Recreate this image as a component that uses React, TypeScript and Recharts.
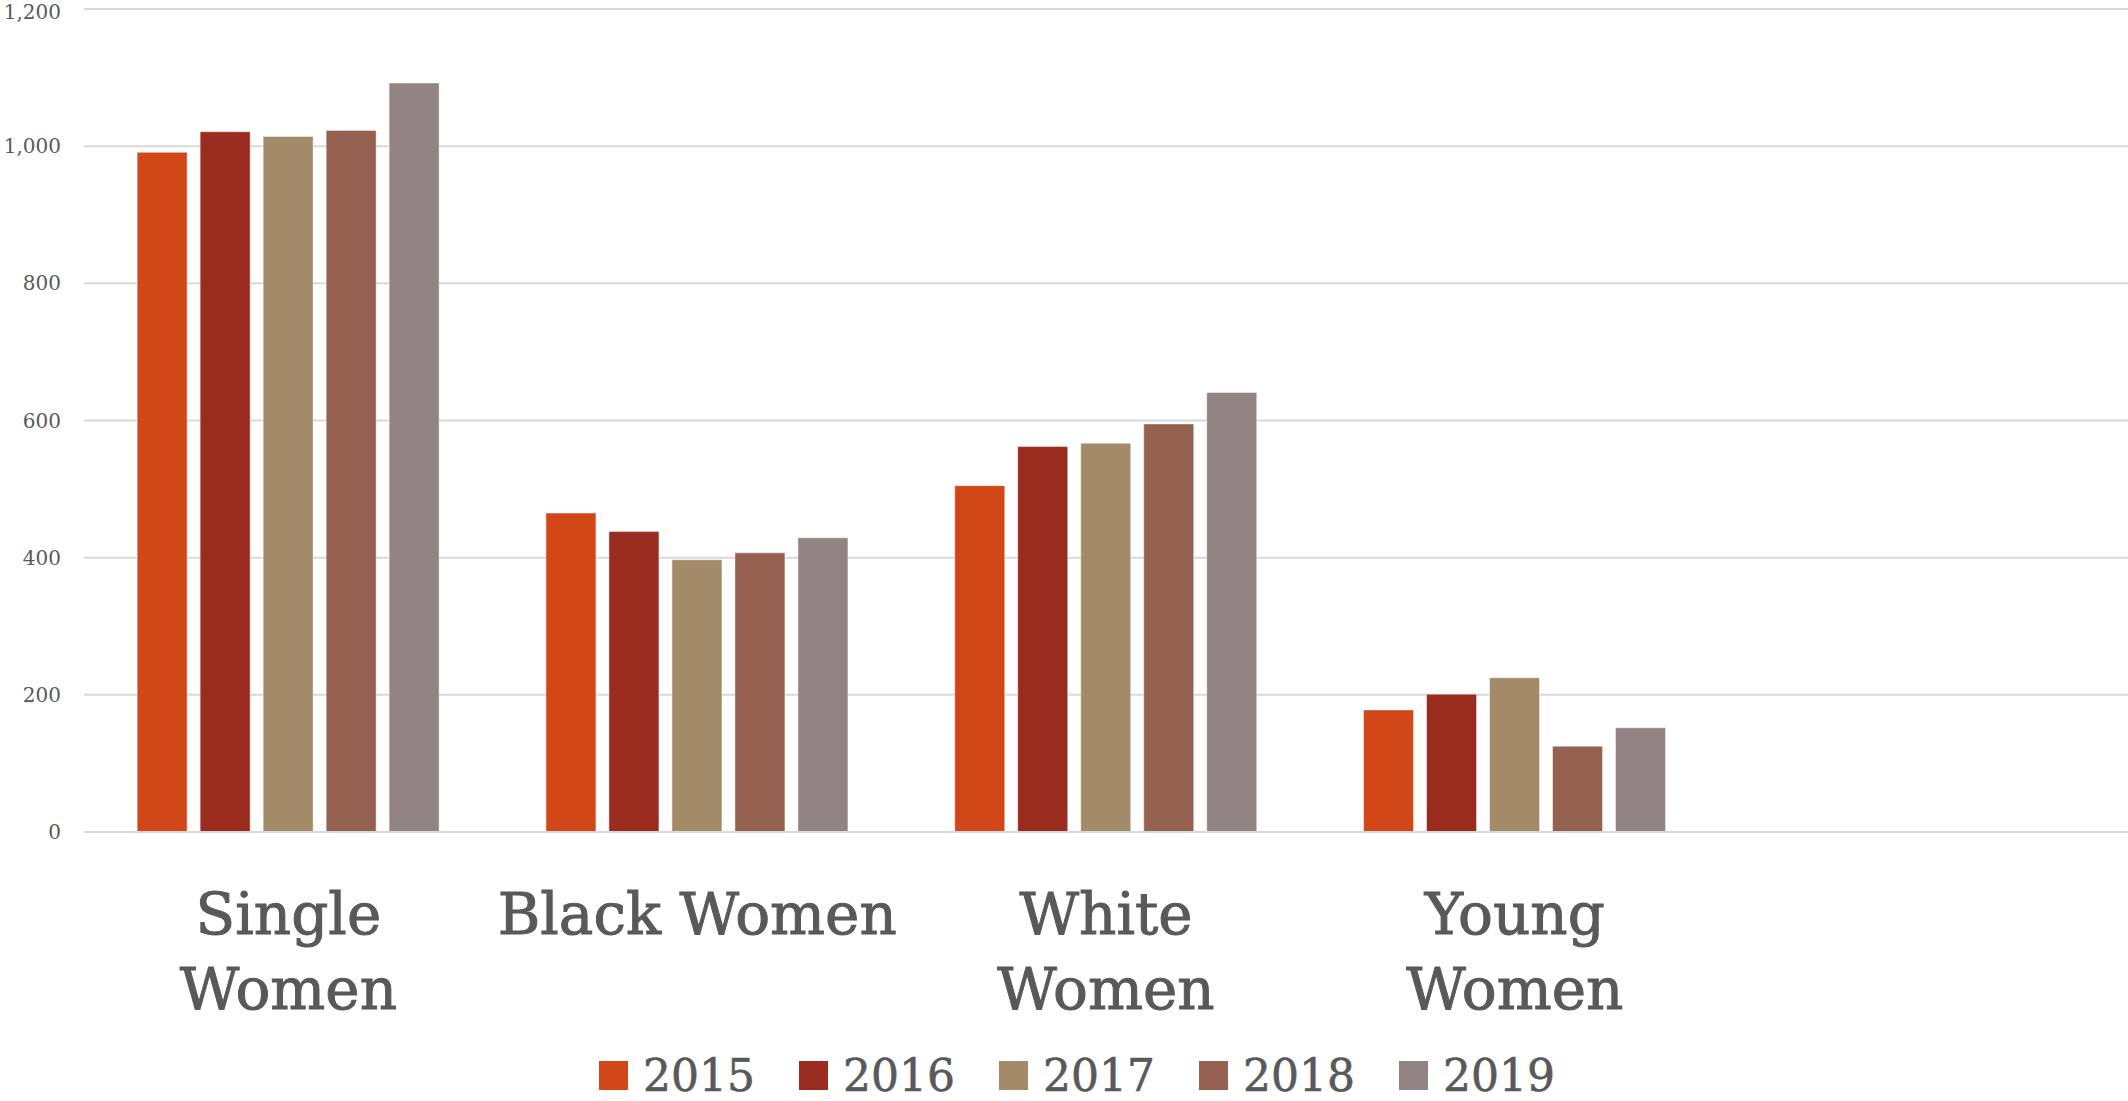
import { Bar, BarChart, CartesianGrid, Legend, XAxis, YAxis } from "recharts"

const categories = ["Single\nWomen", "Black Women", "White\nWomen", "Young\nWomen", ""]
const years = ["2015", "2016", "2017", "2018", "2019"]
const colors = ["#D24718", "#9A2B1F", "#A38B6A", "#956251", "#918483"]

const v2015 = [991, 465, 505, 178]
const v2016 = [1021, 438, 562, 201]
const v2017 = [1014, 397, 567, 225]
const v2018 = [1023, 407, 595, 125]
const v2019 = [1092, 429, 641, 152]

const yTicks = [0, 200, 400, 600, 800, 1000, 1200]

const series = [v2015, v2016, v2017, v2018, v2019]

// one row per category, the last one stays empty like in the original
const data = categories.map((name, i) => {
  const row: Record<string, string | number | undefined> = { name }
  years.forEach((y, s) => {
    row[y] = series[s][i]
  })
  return row
})

const FONT = "'DejaVu Serif', serif"
const TEXT = "#595959"

function CategoryTick(props: any) {
  const { x, y, payload } = props
  const lines = String(payload.value).split("\n")
  return (
    <text
      x={x}
      y={y}
      textAnchor="middle"
      fill={TEXT}
      stroke={TEXT}
      strokeWidth={1}
      fontFamily={FONT}
      fontSize={58}
    >
      {lines.map((line, i) => (
        <tspan key={i} x={x} dy={i === 0 ? 94 : 75}>
          {line}
        </tspan>
      ))}
    </text>
  )
}

function YearLegend(props: any) {
  const items = props.payload || []
  return (
    <div
      style={{
        display: "flex",
        justifyContent: "flex-start",
        alignItems: "center",
        height: 51,
        paddingLeft: 599,
        fontFamily: FONT,
        fontSize: 44,
        color: TEXT,
        WebkitTextStroke: "0.6px #595959",
      }}
    >
      {items.map((item: any) => (
        <div
          key={item.value}
          style={{ display: "flex", alignItems: "center", marginRight: 44 }}
        >
          <span
            style={{
              width: 29,
              height: 29,
              background: item.color,
              marginRight: 15,
              display: "inline-block",
            }}
          />
          <span style={{ lineHeight: "51px" }}>{item.value}</span>
        </div>
      ))}
    </div>
  )
}

export default function App() {
  return (
    <div>
      <style>{`body { margin: 0; }`}</style>
      <BarChart
        width={2128}
        height={1101}
        data={data}
        margin={{ top: 9, right: 0, left: 0, bottom: 0 }}
        barCategoryGap="13%"
        barGap={13}
      >
        <CartesianGrid vertical={false} stroke="#d9d9d9" strokeWidth={2} />
        <XAxis
          dataKey="name"
          height={218}
          axisLine={{ stroke: "#d9d9d9", strokeWidth: 2 }}
          tickLine={false}
          interval={0}
          tick={<CategoryTick />}
        />
        <YAxis
          width={84}
          domain={[0, 1200]}
          ticks={yTicks}
          axisLine={false}
          tickLine={false}
          tickMargin={17}
          tick={{ fill: TEXT, fontFamily: FONT, fontSize: 20 }}
          tickFormatter={(v) => v.toLocaleString("en-US")}
        />
        <Legend verticalAlign="bottom" height={51} content={<YearLegend />} />
        {years.map((y, i) => (
          <Bar
            key={y}
            dataKey={y}
            fill={colors[i]}
            stroke="#ffffff"
            strokeOpacity={0.45}
            strokeWidth={1}
            isAnimationActive={false}
          />
        ))}
      </BarChart>
    </div>
  )
}
